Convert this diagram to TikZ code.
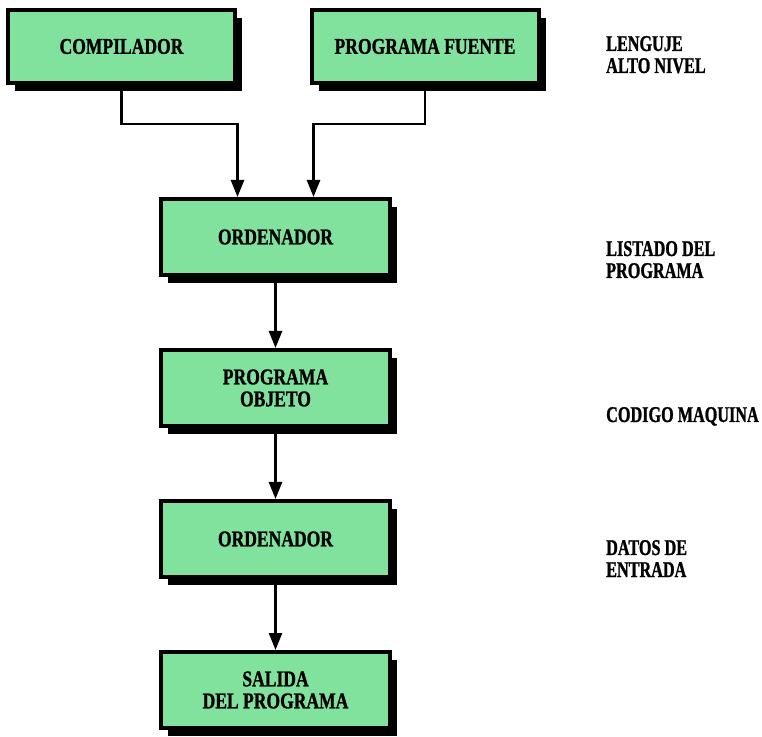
\documentclass[tikz,border=0pt]{standalone}
\usepackage{fontspec}
\setmainfont{Liberation Serif}[FakeStretch=0.78, BoldFeatures={FakeBold=1.1}]
\newfontfamily\notefont{Liberation Serif}[FakeStretch=0.72, BoldFeatures={FakeBold=1.1}]
\usetikzlibrary{calc}
\usetikzlibrary{positioning}
\usetikzlibrary{arrows.meta}
\usetikzlibrary{shadows}
\definecolor{boxgreen}{RGB}{128,226,156}
\tikzset{node distance=71pt, % gap between the boxes of the column
  every node/.style={align=center,
    font=\fontsize{22.5}{22}\selectfont\bfseries},
         box/.style={ % green boxes with the black shadow
           rectangle, draw, line width=4pt,
           fill=boxgreen,
           minimum width=229pt, minimum height=76pt,
           drop shadow={shadow xshift=7pt, shadow yshift=-8pt,
             fill=black, opacity=1}},
         note/.style={anchor=base west, align=left, inner sep=0pt,
           font=\notefont\fontsize{22.5}{22}\selectfont\bfseries},
         flow/.style={ % connectors
           draw, line width=2.6pt,
           -{Triangle[length=17pt,width=13pt]}}}

\begin{document}
\begin{tikzpicture}[x=1pt,y=1pt]
  \useasboundingbox (0,0) rectangle (762,736);

  \node [box, minimum width=227pt, minimum height=73pt] (compilador) at (121.5,689.5) {COMPILADOR};
  \node [box, minimum width=227pt, minimum height=73pt] (fuente) at (425,689.5) {PROGRAMA FUENTE};

  \node [box] (ordenador) at (275.5,499) {ORDENADOR};
  \node [box, below=of ordenador] (objeto) {PROGRAMA\\OBJETO};
  \node [box, below=of objeto] (ordenadorb) {ORDENADOR};
  \node [box, below=of ordenadorb] (salida) {SALIDA\\DEL PROGRAMA};

  \draw [flow] (compilador.south) -- ++(0,-39) -| ([xshift=-38pt]ordenador.north);
  \draw [flow] (fuente.south) -- ++(0,-39) -| ([xshift=38pt]ordenador.north);
  \draw [flow] (ordenador) -- (objeto);
  \draw [flow] (objeto) -- (ordenadorb);
  \draw [flow] (ordenadorb) -- (salida);

  % base anchor sits on the last line
  \node [note] (alto) at (606,663) {LENGUJE\\ALTO NIVEL};
  \node [note] (listado) at (606,458) {LISTADO DEL\\PROGRAMA};
  \node [note] (codigo) at (606,314) {CODIGO MAQUINA};
  \node [note] (datos) at (606,159) {DATOS DE\\ENTRADA};
\end{tikzpicture}
\end{document}
